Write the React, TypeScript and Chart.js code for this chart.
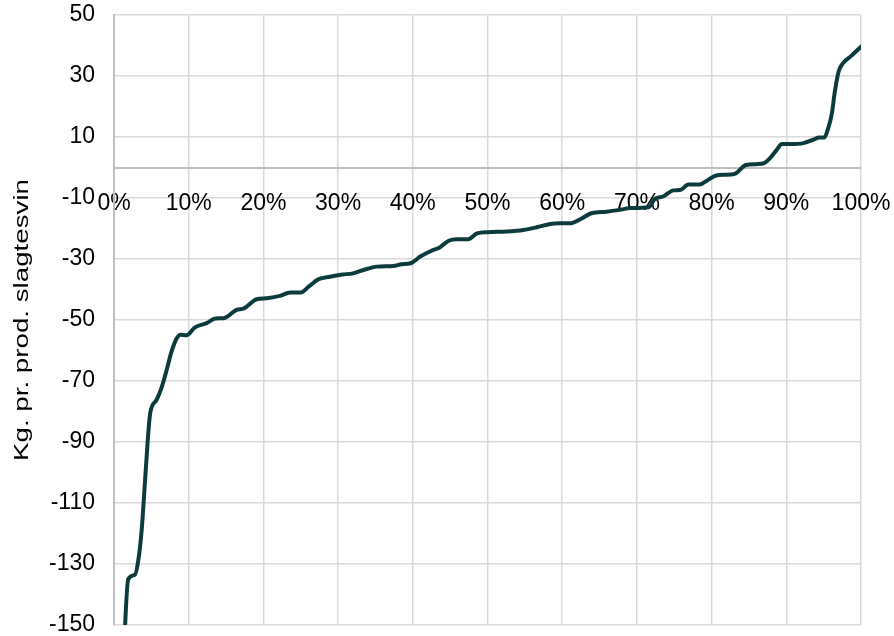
import React, { useEffect, useRef } from 'react';
import { Chart, registerables } from 'chart.js';

Chart.register(...registerables);

// Share of farms (percent, sorted) and kg per produced slaughter pig
const percentiles = [
  1.1, 1.9, 2.8, 3.3, 3.7, 4.15, 4.5, 4.85, 5.7, 6.4, 7.05, 7.7, 8.4, 8.9, 9.7,
  10.8, 12.4, 13.6, 14.7, 16.4, 17.4, 19.1, 20.4, 22.2, 23.6, 25.0, 26.1, 27.4,
  28.9, 30.6, 32.0, 33.4, 35.2, 37.4, 38.5, 39.7, 41.0, 42.5, 43.6, 44.8, 45.9,
  47.4, 48.6, 50.0, 52.6, 54.8, 56.6, 58.4, 59.7, 61.0, 62.6, 63.9, 65.9, 67.7,
  69.1, 71.6, 72.4, 73.5, 74.9, 75.8, 76.9, 78.4, 79.3, 80.6, 81.8, 83.1, 84.6,
  86.0, 87.1, 87.8, 88.7, 89.4, 90.5, 92.3, 93.6, 94.4, 95.0, 95.6, 96.1, 96.5,
  97.0, 97.6, 98.7, 100,
];

const kgValues = [
  -172, -135, -133.5, -128, -119, -103, -90, -80.5, -76.2, -71.9, -66.4, -60.4,
  -56.0, -54.8, -55.0, -52.5, -51.0, -49.5, -49.4, -46.7, -46.2, -43.2, -42.9,
  -42.1, -41.0, -41.0, -39.0, -36.6, -35.8, -35.1, -34.7, -33.6, -32.5, -32.3,
  -31.7, -31.4, -29.2, -27.3, -26.2, -24.0, -23.5, -23.5, -21.6, -21.2, -21.0,
  -20.5, -19.6, -18.5, -18.3, -18.3, -16.7, -15.0, -14.5, -13.9, -13.3, -13.0,
  -10.3, -9.5, -7.5, -7.4, -5.6, -5.6, -4.4, -2.6, -2.4, -2.1, 0.8, 1.1, 1.5,
  3.0, 5.7, 7.7, 7.7, 8.0, 9.1, 9.8, 9.8, 12.8, 17.7, 24.9, 31.4, 34.2, 36.6,
  39.6,
];

const yAxisTitle = 'Kg. pr. prod. slagtesvin';
const xMin = 0;
const xMax = 100;
const xStep = 10;
const yMin = -150;
const yMax = 50;
const yStep = 20;

const FONT = '"Liberation Sans", Arial, Helvetica, sans-serif';

const yTitlePlugin = {
  id: 'yTitleStretched',
  afterDraw(chart: any) {
    const { ctx, chartArea } = chart;
    ctx.save();
    ctx.font = `21px ${FONT}`;
    ctx.fillStyle = '#000000';
    ctx.textAlign = 'center';
    ctx.textBaseline = 'middle';
    const w = ctx.measureText(yAxisTitle).width;
    const sx = 282 / w;
    ctx.translate(22, (chartArea.top + chartArea.bottom) / 2);
    ctx.rotate(-Math.PI / 2);
    ctx.scale(sx, 1);
    ctx.fillText(yAxisTitle, 0, 0);
    ctx.restore();
  },
};

export default function App() {
  const canvasRef = useRef<HTMLCanvasElement | null>(null);

  useEffect(() => {
    if (!canvasRef.current) return;
    const chart = new Chart(canvasRef.current, {
      type: 'line',
      data: {
        datasets: [
          {
            data: percentiles.map((x, i) => ({ x, y: kgValues[i] })),
            borderColor: '#0b3b3d',
            borderWidth: 4,
            pointRadius: 0,
            pointHoverRadius: 0,
            cubicInterpolationMode: 'monotone',
            fill: false,
            borderCapStyle: 'round',
            borderJoinStyle: 'round',
          },
        ],
      },
      options: {
        animation: false,
        responsive: false,
        layout: { padding: { left: 0, top: 15, right: 33, bottom: 11 } },
        plugins: {
          legend: { display: false },
          tooltip: { enabled: false },
          title: { display: false },
        },
        scales: {
          x: {
            type: 'linear',
            min: xMin,
            max: xMax,
            position: { y: 0 } as any,
            ticks: {
              stepSize: xStep,
              autoSkip: false,
              maxRotation: 0,
              padding: 22,
              color: '#000000',
              font: { family: FONT, size: 23 },
              callback: (v: any) => `${v}%`,
            },
            grid: { color: '#d9d9d9', lineWidth: 1.5, drawTicks: false },
            border: { color: '#bfbfbf', width: 2 },
            afterFit: (scale: any) => {
              scale.paddingLeft = 0;
              scale.paddingRight = 0;
              scale.paddingTop = 0;
              scale.paddingBottom = 0;
            },
          },
          y: {
            type: 'linear',
            min: yMin,
            max: yMax,
            ticks: {
              stepSize: yStep,
              padding: 19,
              color: '#000000',
              font: { family: FONT, size: 23, lineHeight: 1 },
              callback: (v: any) => `${v}`,
            },
            grid: { color: '#d9d9d9', lineWidth: 1.5, drawTicks: false },
            border: { color: '#bfbfbf', width: 2 },
            afterFit: (scale: any) => {
              scale.width = 114;
              scale.paddingTop = 0;
              scale.paddingBottom = 0;
              scale.paddingLeft = 0;
              scale.paddingRight = 0;
            },
          },
        },
      },
      plugins: [yTitlePlugin],
    });
    return () => chart.destroy();
  }, []);

  return (
    <canvas
      ref={canvasRef}
      width={894}
      height={636}
      style={{ position: 'absolute', left: 0, top: 0, display: 'block' }}
    />
  );
}
